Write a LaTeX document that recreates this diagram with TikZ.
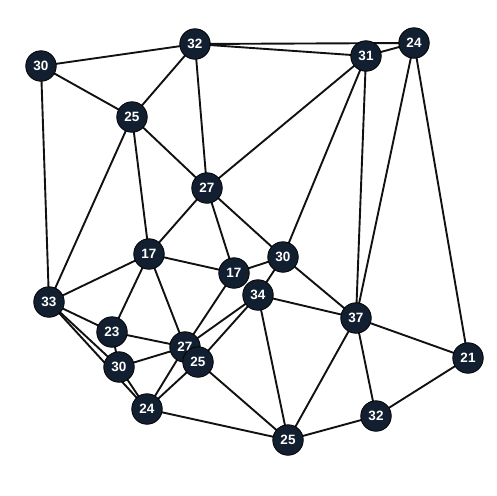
\documentclass[tikz,border=0pt]{standalone}
\usepackage{fontspec}
\setmainfont{Liberation Sans}
\usetikzlibrary{backgrounds}
\definecolor{nodefill}{HTML}{111F30}
\definecolor{edgecol}{HTML}{111111}
\tikzset{
  vtx/.style={circle, fill=nodefill, draw=black, line width=0.8pt, minimum size=30.5pt, inner sep=0pt,
    text=white, font=\fontsize{13.5}{13.5}\selectfont\bfseries},
  edge/.style={draw=edgecol, line width=1.9pt}
}
\begin{document}
\begin{tikzpicture}[x=1pt,y=-1pt]
\useasboundingbox (0,0) rectangle (496,496);
\node[vtx] (a30) at (41,66) {30};
\node[vtx] (a32) at (195,44) {32};
\node[vtx] (a31) at (366,56) {31};
\node[vtx] (a24) at (414,43) {24};
\node[vtx] (a25) at (132,117) {25};
\node[vtx] (b27) at (207,188) {27};
\node[vtx] (c17) at (149,254) {17};
\node[vtx] (d17) at (234,273) {17};
\node[vtx] (e30) at (283,257) {30};
\node[vtx] (f34) at (258,295) {34};
\node[vtx] (g33) at (49,302) {33};
\node[vtx] (h23) at (112,332) {23};
\node[vtx] (i37) at (356,318) {37};
\node[vtx] (j21) at (468,358) {21};
\node[vtx] (k27) at (185,347) {27};
\node[vtx] (l25) at (198,362) {25};
\node[vtx] (m30) at (119,367) {30};
\node[vtx] (n24) at (147,409) {24};
\node[vtx] (o32) at (376,416) {32};
\node[vtx] (p25) at (288,440) {25};
\begin{scope}[on background layer]
\foreach \u/\v in {a30/a32, a30/a25, a30/g33, a32/a25, a32/b27, a32/a31, a32/a24,
  a31/a24, a31/b27, a31/e30, a31/i37, a24/i37, a24/j21,
  a25/b27, a25/c17, a25/g33, b27/c17, b27/d17, b27/e30,
  c17/g33, c17/d17, c17/h23, c17/k27, d17/e30, d17/k27,
  e30/f34, e30/i37, f34/i37, f34/k27, f34/l25, f34/p25,
  g33/h23, g33/m30, g33/n24, h23/k27, h23/m30, m30/k27, m30/n24,
  n24/k27, n24/l25, n24/p25, l25/p25, i37/p25, i37/j21, i37/o32,
  o32/j21, o32/p25}
  \draw[edge] (\u.center) -- (\v.center);
\end{scope}
\end{tikzpicture}
\end{document}
